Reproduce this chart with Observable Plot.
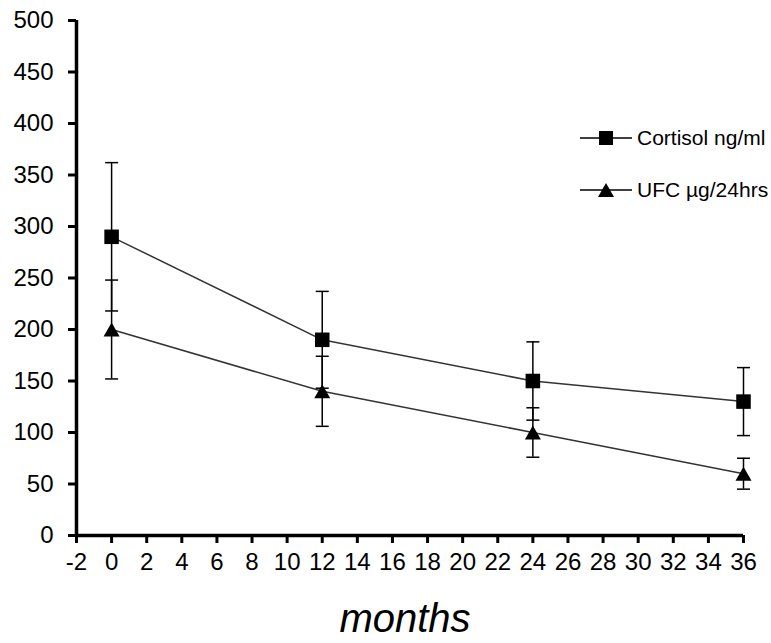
<!DOCTYPE html>
<html>
<head>
<meta charset="utf-8">
<script src="https://cdn.jsdelivr.net/npm/d3@7"></script>
<script src="https://cdn.jsdelivr.net/npm/@observablehq/plot@0.6"></script>
<style>
  body { margin: 0; background: #fff; }
  #wrap { position: relative; width: 771px; height: 643px; font-family: "Liberation Sans", Arial, sans-serif; }
  .legend { position: absolute; left: 580px; font-size: 21px; color: #000; display: flex; align-items: center; height: 24px; }
  .legend svg { display: block; margin-right: 5px; }
</style>
</head>
<body>
<div id="wrap"></div>
<script>
const months = [0, 12, 24, 36];
const cortisol = [290, 190, 150, 130];
const cortisolErr = [72, 47, 38, 33];
const ufc = [200, 140, 100, 60];
const ufcErr = [48, 34, 24, 15];
const seriesNames = ["Cortisol ng/ml", "UFC µg/24hrs"];
const xTicks = [-2, 0, 2, 4, 6, 8, 10, 12, 14, 16, 18, 20, 22, 24, 26, 28, 30, 32, 34, 36];
const yTicks = [0, 50, 100, 150, 200, 250, 300, 350, 400, 450, 500];
const xTitle = "months";

const rows = [];
months.forEach((m, i) => {
  rows.push({month: m, value: cortisol[i], err: cortisolErr[i], series: seriesNames[0]});
  rows.push({month: m, value: ufc[i], err: ufcErr[i], series: seriesNames[1]});
});
const cRows = rows.filter(d => d.series === seriesNames[0]);
const uRows = rows.filter(d => d.series === seriesNames[1]);

const capSymbol = { draw(ctx) { ctx.moveTo(-6.5, 0); ctx.lineTo(6.5, 0); } };
const triSymbol = { draw(ctx) { const w = 16, h = 14; ctx.moveTo(0, -h / 2); ctx.lineTo(w / 2, h / 2); ctx.lineTo(-w / 2, h / 2); ctx.closePath(); } };

const chart = Plot.plot({
  width: 771,
  height: 643,
  marginLeft: 76,
  marginRight: 28,
  marginTop: 20,
  marginBottom: 108,
  style: { fontFamily: "Liberation Sans, Arial, sans-serif", fontSize: "24px", color: "#000", background: "#fff" },
  x: { domain: [-2, 36] },
  y: { domain: [0, 500] },
  marks: [
    Plot.axisY({ticks: yTicks, tickFormat: d => String(d), tickSize: 8, tickPadding: 15, strokeWidth: 3, label: null, fontSize: 24}),
    Plot.axisX({ticks: xTicks, tickFormat: d => String(d), tickSize: 8, tickPadding: 9, strokeWidth: 3, label: null, fontSize: 24}),
    Plot.ruleY([0], {stroke: "black", strokeWidth: 3.5}),
    Plot.ruleX([-2], {stroke: "black", strokeWidth: 3.5}),
    Plot.line(cRows, {x: "month", y: "value", stroke: "#333", strokeWidth: 1.5}),
    Plot.line(uRows, {x: "month", y: "value", stroke: "#333", strokeWidth: 1.5}),
    Plot.ruleX(rows, {x: "month", y1: d => d.value - d.err, y2: d => d.value + d.err, stroke: "black", strokeWidth: 1.5}),
    Plot.dot(rows, {x: "month", y: d => d.value + d.err, symbol: capSymbol, stroke: "black", strokeWidth: 1.5, fill: "none", r: 5}),
    Plot.dot(rows, {x: "month", y: d => d.value - d.err, symbol: capSymbol, stroke: "black", strokeWidth: 1.5, fill: "none", r: 5}),
    Plot.dot(cRows, {x: "month", y: "value", symbol: "square", r: 8.2, fill: "black", stroke: "none"}),
    Plot.dot(uRows, {x: "month", y: "value", symbol: triSymbol, r: 6, fill: "black", stroke: "none"}),
    Plot.text([xTitle], {frameAnchor: "bottom", dy: 96, dx: -5, lineAnchor: "bottom", fontSize: 40, fontStyle: "italic", fill: "black"})
  ]
});

const wrap = document.getElementById("wrap");
wrap.appendChild(chart);

const legendTops = [126, 178];
seriesNames.forEach((name, i) => {
  const row = document.createElement("div");
  row.className = "legend";
  row.style.top = legendTops[i] + "px";
  const marker = i === 0
    ? '<rect x="19" y="-7" width="14" height="14" fill="black"/>'
    : '<path d="M26,-7L34,7L18,7Z" fill="black"/>';
  row.innerHTML = '<svg width="52" height="24" viewBox="0 -12 52 24"><line x1="0" y1="0" x2="52" y2="0" stroke="black" stroke-width="1.5"/>' + marker + '</svg><span>' + name + '</span>';
  wrap.appendChild(row);
});
</script>
</body>
</html>
